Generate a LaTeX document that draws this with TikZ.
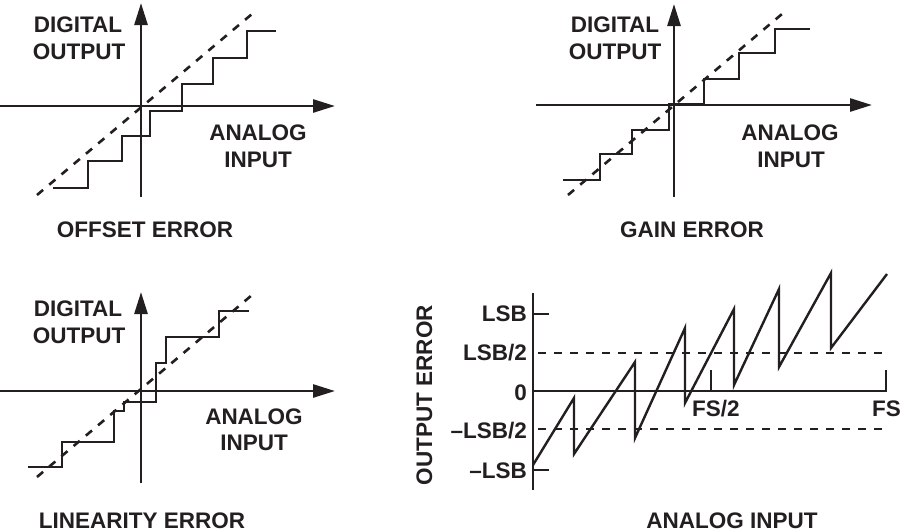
\documentclass[tikz,border=0pt]{standalone}
\usepackage{fontspec}
\setmainfont{Liberation Sans}
\usetikzlibrary{arrows.meta}
\definecolor{ink}{HTML}{231F20}
\begin{document}
\begin{tikzpicture}[x=1pt,y=-1pt,
  lbl/.style={font=\fontsize{22.5}{26}\selectfont\bfseries, inner sep=0pt, anchor=base, text=ink},
  axisline/.style={line width=2.7pt, draw=ink},
  arr/.style={axisline, -{Triangle[length=22pt,width=13pt]}},
  curve/.style={line width=2.4pt, draw=ink, line join=miter},
  ideal/.style={line width=2.6pt, draw=ink, dash pattern=on 8pt off 8pt},
]
\useasboundingbox (0,0) rectangle (900,531);

% ---------- Panel 1: offset error ----------
\coordinate (o1b) at (141,197);
\coordinate (o1t) at (141,3);
\coordinate (o1l) at (0,106);
\coordinate (o1r) at (335,106);
\draw[arr] (o1b) -- (o1t);
\draw[arr] (o1l) -- (o1r);
\coordinate (d1a) at (37,195);
\coordinate (d1b) at (252,14);
\draw[ideal] (d1a) -- (d1b);
\draw[curve] (53,188) -- (88,188) -- (88,161) -- (122,161) -- (122,136) -- (150,136)
  -- (150,111) -- (182,111) -- (182,84) -- (213,84) -- (213,58) -- (247,58)
  -- (247,31) -- (276,31);
\node[lbl] (t1a) at (78,32) {DIGITAL};
\node[lbl] (t1b) at (79,59) {OUTPUT};
\node[lbl] (t1c) at (258,140) {ANALOG};
\node[lbl] (t1d) at (258,167) {INPUT};
\node[lbl] (t1e) at (145,237) {OFFSET ERROR};

% ---------- Panel 2: gain error ----------
\coordinate (o2b) at (674,197);
\coordinate (o2t) at (674,4);
\coordinate (o2l) at (536,105);
\coordinate (o2r) at (872,105);
\draw[arr] (o2b) -- (o2t);
\draw[arr] (o2l) -- (o2r);
\coordinate (d2a) at (568,195);
\coordinate (d2b) at (782,14);
\draw[ideal] (d2a) -- (d2b);
\draw[curve] (563,180) -- (600,180) -- (600,154) -- (632,154) -- (632,130) -- (669,130)
  -- (669,104) -- (704,104) -- (704,79) -- (739,79) -- (739,53) -- (775,53)
  -- (775,29) -- (810,29);
\node[lbl] (t2a) at (615,32) {DIGITAL};
\node[lbl] (t2b) at (615,59) {OUTPUT};
\node[lbl] (t2c) at (790,140) {ANALOG};
\node[lbl] (t2d) at (791,167) {INPUT};
\node[lbl] (t2e) at (692,237) {GAIN ERROR};

% ---------- Panel 3: linearity error ----------
\coordinate (o3b) at (141,483);
\coordinate (o3t) at (141,292);
\coordinate (o3l) at (0,391);
\coordinate (o3r) at (335,391);
\draw[arr] (o3b) -- (o3t);
\draw[arr] (o3l) -- (o3r);
\coordinate (d3a) at (37,477);
\coordinate (d3b) at (252,295);
\draw[ideal] (d3a) -- (d3b);
\draw[curve] (28,467) -- (62,467) -- (62,442) -- (114,442) -- (114,411) -- (124,411)
  -- (124,402) -- (156,402) -- (156,363) -- (166,363) -- (166,337) -- (219,337)
  -- (219,311) -- (249,311);
\node[lbl] (t3a) at (78,316) {DIGITAL};
\node[lbl] (t3b) at (79,343) {OUTPUT};
\node[lbl] (t3c) at (254,424) {ANALOG};
\node[lbl] (t3d) at (254,450) {INPUT};
\node[lbl] (t3e) at (142,528) {LINEARITY ERROR};

% ---------- Panel 4: quantization error ----------
\coordinate (v4t) at (533,293);
\coordinate (v4b) at (533,490);
\draw[axisline] (v4t) -- (v4b);
\coordinate (h4l) at (533,391);
\coordinate (fsh) at (711,370);
\coordinate (fshb) at (711,391);
\coordinate (fst) at (886,370);
\draw[axisline] (fsh) -- (fshb);
\draw[axisline] (h4l) -- (886,391) -- (fst);
\draw[axisline] (533,314) -- (549,314);
\draw[axisline] (533,470) -- (549,470);
\draw[ideal] (538,353) -- (882,353);
\draw[ideal] (538,429) -- (882,429);
\draw[curve] (533,465) -- (574,398) -- (574,454) -- (635,362) -- (635,438)
  -- (685,328) -- (685,403) -- (734,309) -- (734,385) -- (779,289) -- (779,367)
  -- (831,273) -- (831,348) -- (887,274);
\node[lbl, anchor=base east] (l1) at (527,321) {LSB};
\node[lbl, anchor=base east] (l2) at (527,360) {LSB/2};
\node[lbl, anchor=base east] (l3) at (527,400) {0};
\node[lbl, anchor=base east] (l4) at (527,438) {--LSB/2};
\node[lbl, anchor=base east] (l5) at (527,478) {--LSB};
\node[lbl, anchor=base west] (fs2) at (692,416) {FS/2};
\node[lbl, anchor=base west] (fs) at (872,416) {FS};
\node[lbl, rotate=90] (oe) at (432,395) {OUTPUT ERROR};
\node[lbl] (ai) at (732,528) {ANALOG INPUT};
\end{tikzpicture}
\end{document}
